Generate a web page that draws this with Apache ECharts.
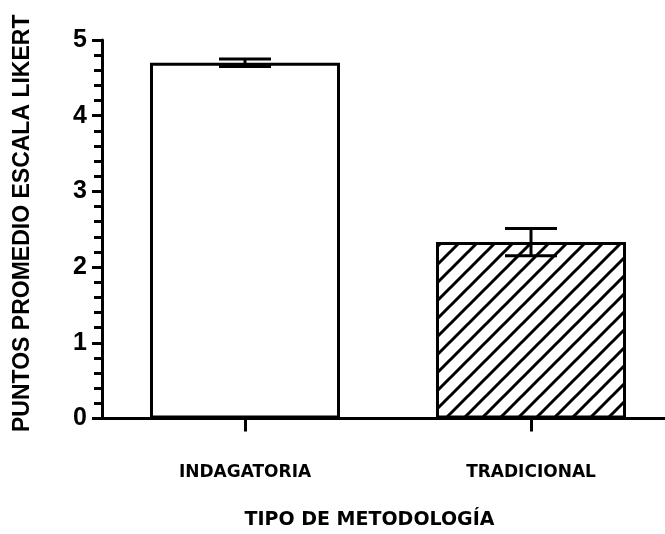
<!DOCTYPE html>
<html>
<head>
<meta charset="utf-8">
<script src="https://cdn.jsdelivr.net/npm/echarts@6/dist/echarts.min.js"></script>
<style>
  html, body { margin: 0; padding: 0; background: #fff; }
  #chart { width: 665px; height: 534px; }
</style>
</head>
<body>
<div id="chart"></div>
<script>
// Mean Likert scores per teaching method, with their error (SEM)
const categories = ['INDAGATORIA', 'TRADICIONAL'];
const means = [4.70, 2.33];
const errors = [0.05, 0.18];
const yTicks = [0, 1, 2, 3, 4, 5];

const FONT = '"Liberation Sans", Arial, sans-serif';
const WIDE_FONT = '"DejaVu Sans", "Liberation Sans", sans-serif';

// Diagonal hatch tile for the second bar
function hatchTile() {
  const s = 18;
  const c = document.createElement('canvas');
  c.width = s; c.height = s;
  const g = c.getContext('2d');
  g.fillStyle = '#fff';
  g.fillRect(0, 0, s, s);
  g.strokeStyle = '#000';
  g.lineWidth = 3;
  g.beginPath();
  g.moveTo(-2, s + 2); g.lineTo(s + 2, -2);
  g.moveTo(-2, 2); g.lineTo(2, -2);
  g.moveTo(s - 2, s + 2); g.lineTo(s + 2, s - 2);
  g.stroke();
  return c;
}

const barData = means.map((v, i) => ({
  value: v,
  itemStyle: i === 0
    ? { color: '#fff' }
    : { color: { image: hatchTile(), repeat: 'repeat' } }
}));

const errData = means.map((m, i) => [i, m - errors[i], m + errors[i]]);

const chart = echarts.init(document.getElementById('chart'), null, { renderer: 'canvas' });
chart.setOption({
  animation: false,
  backgroundColor: '#fff',
  grid: {
    left: 102, top: 40, bottom: 115.5, width: 572,
    containLabel: false, outerBoundsMode: 'none'
  },
  xAxis: {
    type: 'category',
    data: categories,
    name: 'TIPO DE METODOLOGÍA',
    nameLocation: 'middle',
    nameGap: 92,
    nameTextStyle: {
      fontFamily: WIDE_FONT, fontWeight: 'bold', fontSize: 19, color: '#000',
      padding: [0, 37, 0, 0]
    },
    axisLine: { lineStyle: { color: '#000', width: 3 } },
    axisTick: { show: true, alignWithLabel: true, length: 13, lineStyle: { color: '#000', width: 3 } },
    axisLabel: { margin: 46, fontFamily: WIDE_FONT, fontWeight: 'bold', fontSize: 17, color: '#000' },
    splitLine: { show: false }
  },
  yAxis: {
    type: 'value',
    min: yTicks[0],
    max: yTicks[yTicks.length - 1],
    interval: 1,
    name: 'PUNTOS PROMEDIO ESCALA LIKERT',
    nameLocation: 'middle',
    nameRotate: 90,
    nameGap: 68,
    nameTextStyle: {
      fontFamily: FONT, fontWeight: 'bold', fontSize: 23, color: '#000',
      padding: [0, 0, 0, 12]
    },
    axisLine: { show: true, lineStyle: { color: '#000', width: 3 } },
    axisTick: { show: true, length: 10, lineStyle: { color: '#000', width: 3 } },
    minorTick: { show: true, splitNumber: 5, length: 8, lineStyle: { color: '#000', width: 3 } },
    axisLabel: { margin: 15, fontFamily: FONT, fontWeight: 'bold', fontSize: 25, color: '#000' },
    splitLine: { show: false }
  },
  series: [
    {
      type: 'bar',
      data: barData,
      barWidth: 190,
      itemStyle: { borderColor: '#000', borderWidth: 3 }
    },
    {
      type: 'custom',
      data: errData,
      z: 5,
      renderItem: function (params, api) {
        const x = api.value(0);
        const lo = api.coord([x, api.value(1)]);
        const hi = api.coord([x, api.value(2)]);
        const hw = 26;
        const style = { stroke: '#000', lineWidth: 3 };
        return {
          type: 'group',
          children: [
            { type: 'line', shape: { x1: hi[0], y1: hi[1], x2: lo[0], y2: lo[1] }, style: style },
            { type: 'line', shape: { x1: hi[0] - hw, y1: hi[1], x2: hi[0] + hw, y2: hi[1] }, style: style },
            { type: 'line', shape: { x1: lo[0] - hw, y1: lo[1], x2: lo[0] + hw, y2: lo[1] }, style: style }
          ]
        };
      }
    }
  ]
});
</script>
</body>
</html>
